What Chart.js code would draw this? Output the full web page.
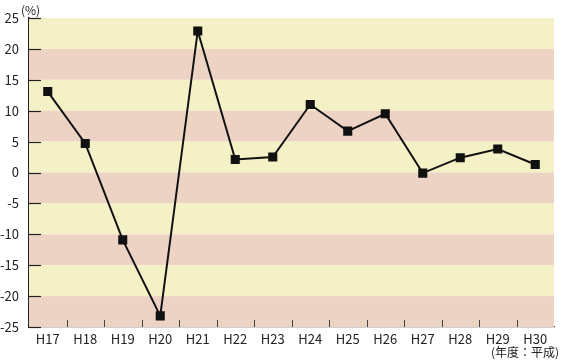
<!DOCTYPE html>
<html>
<head>
<meta charset="utf-8">
<script src="https://cdn.jsdelivr.net/npm/chart.js@4.4.1/dist/chart.umd.min.js"></script>
<style>
  html, body { margin: 0; padding: 0; background: #fff; }
  #wrap { width: 561px; height: 364px; position: relative; }
</style>
</head>
<body>
<div id="wrap"><canvas id="growth"></canvas></div>
<script>
"use strict";
// fiscal years (Heisei) and growth rate in %
const years = ["H17", "H18", "H19", "H20", "H21", "H22", "H23", "H24", "H25", "H26", "H27", "H28", "H29", "H30"];
const rates = [13.1, 4.7, -10.9, -23.2, 22.9, 2.1, 2.5, 11.0, 6.7, 9.5, -0.1, 2.4, 3.8, 1.3];
const yTicks = [25, 20, 15, 10, 5, 0, -5, -10, -15, -20, -25];

const FONT = "'Noto Sans CJK JP', 'Noto Sans', sans-serif";
const bandColors = ['#f5f1c6', '#edd3c4'];

// striped background, inner tick marks and the unit captions
const decorPlugin = {
    id: 'decor',
    beforeDatasetsDraw(chart) {
        const ctx = chart.ctx;
        const area = chart.chartArea;
        const y = chart.scales.y;
        const x = chart.scales.x;
        ctx.save();
        for (let i = 0; i < yTicks.length - 1; i++) {
            const top = y.getPixelForValue(yTicks[i]);
            const bottom = y.getPixelForValue(yTicks[i + 1]);
            ctx.fillStyle = bandColors[i % 2];
            ctx.fillRect(area.left, top, area.right - area.left, bottom - top);
        }
        ctx.strokeStyle = '#222';
        ctx.lineWidth = 1.2;
        yTicks.forEach(function (v) {
            const py = Math.round(y.getPixelForValue(v)) + 0.5;
            ctx.beginPath();
            ctx.moveTo(area.left, py);
            ctx.lineTo(area.left + 12, py);
            ctx.stroke();
        });
        ctx.strokeStyle = '#444';
        ctx.lineWidth = 1;
        for (let i = 1; i < years.length; i++) {
            const px = Math.round((x.getPixelForValue(i - 1) + x.getPixelForValue(i)) / 2) + 0.5;
            ctx.beginPath();
            ctx.moveTo(px, area.bottom);
            ctx.lineTo(px, area.bottom - 7);
            ctx.stroke();
        }
        ctx.restore();
    },
    afterDraw(chart) {
        const ctx = chart.ctx;
        ctx.save();
        ctx.fillStyle = '#222';
        ctx.font = '12px ' + FONT;
        ctx.textBaseline = 'middle';
        ctx.textAlign = 'left';
        ctx.fillText('(%)', 21, 10);
        ctx.textAlign = 'right';
        ctx.fillText('(年度：平成)', 559, 352);
        ctx.restore();
    }
};

const canvas = document.getElementById('growth');
let growthChart = new Chart(canvas, {
    type: 'line',
    data: {
        labels: years,
        datasets: [{
            data: rates,
            borderColor: '#111',
            borderWidth: 2,
            backgroundColor: '#111',
            pointStyle: 'rect',
            pointRadius: 5,
            pointHoverRadius: 5,
            tension: 0,
            fill: false
        }]
    },
    options: {
        responsive: true,
        maintainAspectRatio: false,
        animation: false,
        events: [],
        layout: { padding: { top: 18, right: 3, left: 0, bottom: 0 } },
        plugins: {
            legend: { display: false },
            tooltip: { enabled: false }
        },
        scales: {
            x: {
                offset: true,
                grid: { display: false, drawTicks: false },
                border: { display: true, color: '#444', width: 1.2 },
                ticks: {
                    color: '#222',
                    padding: 4,
                    font: { family: FONT, size: 13 }
                },
                afterFit(scale) { scale.height = 37; }
            },
            y: {
                min: -25,
                max: 25,
                grid: { display: false, drawTicks: false },
                border: { display: true, color: '#222', width: 1.5 },
                ticks: {
                    stepSize: 5,
                    color: '#222',
                    padding: 10,
                    font: { family: FONT, size: 13 }
                },
                afterFit(scale) { scale.width = 29; }
            }
        }
    },
    plugins: [decorPlugin]
});
</script>
</body>
</html>
